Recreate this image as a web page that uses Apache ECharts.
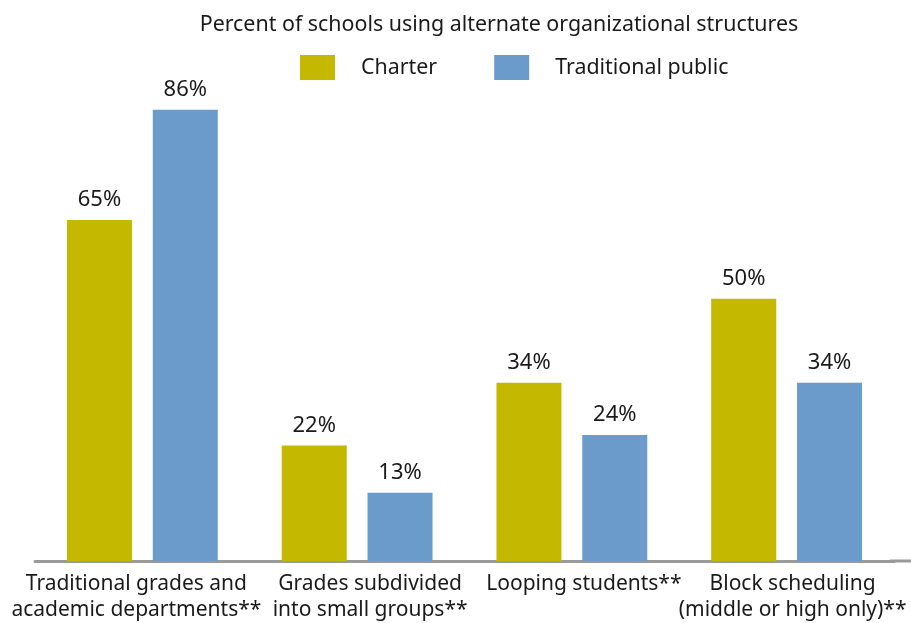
<!DOCTYPE html>
<html><head><meta charset="utf-8">
<script src="https://cdn.jsdelivr.net/npm/echarts@6/dist/echarts.min.js"></script>
<style>html,body{margin:0;padding:0;background:#fff}#c{width:911px;height:623px}</style>
</head><body><div id="c"></div>
<script>
const categories = ['Traditional grades and\nacademic departments**', 'Grades subdivided\ninto small groups**', 'Looping students**', 'Block scheduling\n(middle or high only)**'];
const charter = [65, 22, 34, 50];
const traditional = [86, 13, 24, 34];
const FONT = 'Noto Sans';
const chart = echarts.init(document.getElementById('c'));
const lbl = {show: true, position: 'top', distance: 9, formatter: '{c}%', fontFamily: FONT, fontSize: 22, color: '#1a1a1a'};
const base = {fontFamily: FONT, fontSize: 21, color: '#1a1a1a', lineHeight: 26};
const rich = {
  s0: Object.assign({padding: [0, 12, 0, 0]}, base),
  s1: Object.assign({padding: [0, 0, 0, 26]}, base),
  s2: Object.assign({padding: [0, 0, 0, 24]}, base),
  s3: Object.assign({padding: [0, 0, 0, 12]}, base)
};
chart.setOption({
  animation: false,
  title: {text: 'Percent of schools using alternate organizational structures', left: 494, textAlign: 'center', top: 9,
    textStyle: {fontFamily: FONT, fontSize: 21.4, fontWeight: 'normal', color: '#1a1a1a'}},
  legend: {top: 50, left: 295, itemWidth: 35, itemHeight: 25, itemGap: 57, icon: 'rect',
    textStyle: {fontFamily: FONT, fontSize: 21.4, color: '#1a1a1a', padding: [0, 0, 0, 21]},
    data: ['Charter', 'Traditional public']},
  grid: {left: 35, right: 17, top: 36.4, bottom: 61, containLabel: false},
  xAxis: {type: 'category', data: categories,
    axisLine: {lineStyle: {color: '#9a9a9a', width: 3}},
    axisTick: {show: false},
    axisLabel: {interval: 0, fontFamily: FONT, fontSize: 21, color: '#1a1a1a', lineHeight: 26, margin: 10,
      formatter: (v, i) => v.split('\n').map(l => '{s' + i + '|' + l + '}').join('\n'), rich: rich}},
  yAxis: {type: 'value', min: 0, max: 100, show: false, splitLine: {show: false}},
  series: [
    {name: 'Charter', type: 'bar', data: charter, barWidth: 65, barGap: '32%', itemStyle: {color: '#C4B800'}, label: lbl},
    {name: 'Traditional public', type: 'bar', data: traditional, barWidth: 65, itemStyle: {color: '#6A9BCB'}, label: lbl}
  ],
  graphic: [{type: 'line', shape: {x1: 890, y1: 561, x2: 911, y2: 561}, style: {stroke: '#9a9a9a', lineWidth: 3}}]
});
</script></body></html>
